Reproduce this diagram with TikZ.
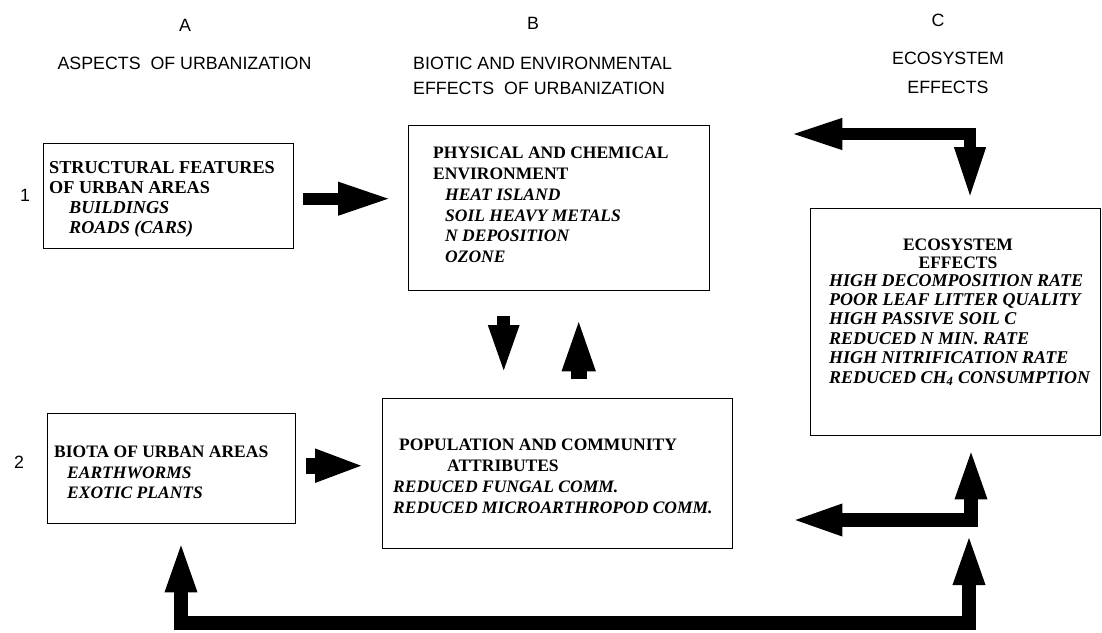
\documentclass[tikz,border=0pt]{standalone}
\usepackage{fontspec}
\setmainfont{Liberation Serif}
\newfontfamily\hv{Liberation Sans}
\usetikzlibrary{arrows.meta}
\begin{document}
\begin{tikzpicture}[x=1pt,y=-1pt,
  box/.style={draw, line width=1.4pt, rectangle, anchor=north west, inner sep=0pt},
  txt/.style={anchor=north west, inner sep=0pt, align=left},
  hd/.style={inner sep=0pt, font=\hv\fontsize{17.8}{20}\selectfont},
  fat/.style={line width=13pt, line join=miter, -{Triangle[length=53pt,width=28pt]}},
  dfat/.style={line width=13pt, line join=miter, {Triangle[length=53pt,width=28pt]}-{Triangle[length=53pt,width=28pt]}}
]
\useasboundingbox (0,0) rectangle (1102,632);

% column and row headings
\node[hd] (hA) at (185,25) {A};
\node[hd] (hB) at (533,23) {B};
\node[hd] (hC) at (938,20) {C};
\node[hd] (hA2) at (184.5,63) {ASPECTS\ \ OF URBANIZATION};
\node[hd, anchor=west] (hB2) at (413,63) {BIOTIC AND ENVIRONMENTAL};
\node[hd, anchor=west] (hB3) at (413,88) {EFFECTS\ \ OF URBANIZATION};
\node[hd] (hC2) at (948,58) {ECOSYSTEM};
\node[hd] (hC3) at (948,87) {EFFECTS};
\node[hd] (r1) at (25,195) {1};
\node[hd] (r2) at (19,462) {2};

% boxes
\node[box, minimum width=250pt, minimum height=105pt] (A1) at (43,143) {};
\node[box, minimum width=301pt, minimum height=165pt] (B1) at (408,125) {};
\node[box, minimum width=248pt, minimum height=110pt] (A2) at (47,413) {};
\node[box, minimum width=350pt, minimum height=150pt] (B2) at (382,398) {};
\node[box, minimum width=290pt, minimum height=227pt] (C) at (810,208) {};

% box texts
\node[txt, font=\fontsize{18.2}{20}\selectfont\bfseries] (tA1) at (49,161)
  {STRUCTURAL FEATURES\\OF URBAN AREAS\\
   \hspace*{20pt}{\itshape BUILDINGS}\\
   \hspace*{20pt}{\itshape ROADS (CARS)}};
\node[txt, font=\fontsize{17.5}{20.8}\selectfont\bfseries] (tB1) at (433,147)
  {PHYSICAL AND CHEMICAL\\ENVIRONMENT\\
   \hspace*{12pt}{\itshape HEAT ISLAND}\\
   \hspace*{12pt}{\itshape SOIL HEAVY METALS}\\
   \hspace*{12pt}{\itshape N DEPOSITION}\\
   \hspace*{12pt}{\itshape OZONE}};
\node[txt, font=\fontsize{17.5}{20.5}\selectfont\bfseries] (tA2) at (54,446)
  {BIOTA OF URBAN AREAS\\
   \hspace*{13pt}{\itshape EARTHWORMS}\\
   \hspace*{13pt}{\itshape EXOTIC PLANTS}};
\node[txt, font=\fontsize{17.5}{21}\selectfont\bfseries] (tB2) at (393,439)
  {\hspace*{6pt}POPULATION AND COMMUNITY\\
   \hspace*{54pt}ATTRIBUTES\\
   {\itshape REDUCED FUNGAL COMM.}\\
   {\itshape REDUCED MICROARTHROPOD COMM.}};
\node[txt, anchor=north, align=center, font=\fontsize{17.5}{18}\selectfont\bfseries] (tC1) at (958,239)
  {ECOSYSTEM\\EFFECTS};
\node[txt, font=\fontsize{18}{19.4}\selectfont\bfseries\itshape] (tC2) at (829,274)
  {HIGH DECOMPOSITION RATE\\
   POOR LEAF LITTER QUALITY\\
   HIGH PASSIVE SOIL C\\
   REDUCED N MIN. RATE\\
   HIGH NITRIFICATION RATE\\
   REDUCED CH\textsubscript{4} CONSUMPTION};

% connectors
\coordinate (k1) at (970,134);
\coordinate (k2) at (971,520);
\coordinate (k3) at (181,623);
\coordinate (k4) at (969,623);
\coordinate (j) at (969,532);

\draw[fat, line width=12pt, -{Triangle[length=54pt,width=30pt]}, shorten <=9pt, shorten >=16pt]
  ([yshift=-2.5pt]A1.east) -- ([yshift=-2.5pt]A1.east -| B1.west);
\draw[fat, line width=16pt, -{Triangle[length=50pt,width=30pt]}, shorten <=10pt, shorten >=17pt]
  ([yshift=3pt]A2.east) -- ([yshift=3pt]A2.east -| B2.west);
\draw[fat, -{Triangle[length=51pt,width=27pt]}, shorten <=25pt, shorten >=22pt]
  ([xshift=-55.5pt]B1.south) -- ([xshift=-55.5pt]B1.south |- B2.north);
\draw[fat, line width=16pt, -{Triangle[length=56pt,width=29pt]}, shorten <=19pt, shorten >=24pt]
  ([xshift=19.5pt]B1.south |- B2.north) -- ([xshift=19.5pt]B1.south);
\draw[dfat, line width=12pt, shorten <=79pt, shorten >=8pt]
  (B1.east |- k1) -- (k1) -- (k1 |- C.north);
\draw[dfat, line width=14pt, shorten <=56pt, shorten >=10pt]
  (B2.east |- k2) -- (k2) -- (k2 |- C.south);
\draw[dfat, line width=14pt, shorten <=15pt]
  (k3 |- A2.south) -- (k3) -- (k4) -- (j);
\end{tikzpicture}
\end{document}
